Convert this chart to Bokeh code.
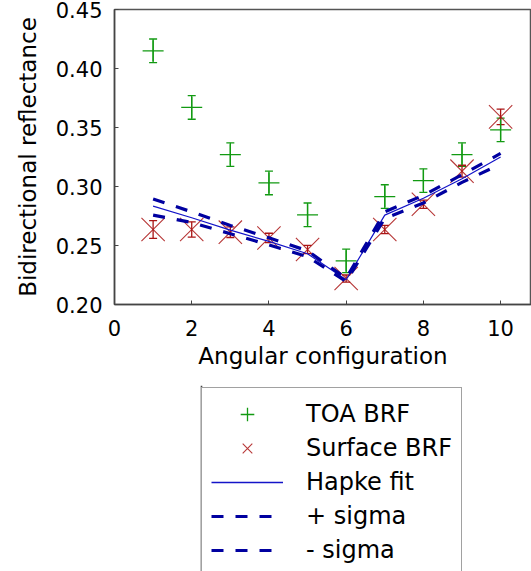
from bokeh.plotting import figure
from bokeh.layouts import column
from bokeh.models import (ColumnDataSource, Whisker, TeeHead, Legend, LegendItem,
                          Range1d, FixedTicker, PrintfTickFormatter, Span)
from bokeh.embed import file_html
from bokeh.resources import INLINE

# ---- data ----
angles = [1, 2, 3, 4, 5, 6, 7, 8, 9, 10]
toa_brf = [0.415, 0.367, 0.327, 0.303, 0.276, 0.237, 0.2915, 0.305, 0.327, 0.348]
toa_err = [0.010, 0.010, 0.010, 0.010, 0.010, 0.010, 0.010, 0.010, 0.010, 0.010]
surf_brf = [0.2636, 0.2636, 0.2613, 0.2564, 0.2466, 0.222, 0.2636, 0.285, 0.313, 0.359]
surf_err = [0.0075, 0.0065, 0.0045, 0.0040, 0.0035, 0.0030, 0.0035, 0.0035, 0.0050, 0.0066]
hapke_fit = [0.2834, 0.2735, 0.2630, 0.2535, 0.2430, 0.2210, 0.2757, 0.2900, 0.3065, 0.3250]
plus_sigma = [0.2894, 0.2785, 0.2670, 0.2565, 0.2455, 0.2222, 0.2785, 0.2925, 0.3100, 0.3280]
minus_sigma = [0.2757, 0.2695, 0.2600, 0.2505, 0.2405, 0.2195, 0.2730, 0.2860, 0.3035, 0.3190]
x_ticks = [0, 2, 4, 6, 8, 10]
y_ticks = [0.20, 0.25, 0.30, 0.35, 0.40, 0.45]
legend_labels = ["TOA BRF", "Surface BRF", "Hapke fit", "+ sigma", "- sigma"]

GREEN = "#129a12"
RED = "#aa1414"
BLUE = "#1414c8"
DBLUE = "#0000a0"
FONT = "DejaVu Sans"

src = ColumnDataSource(dict(
    x=angles,
    toa=toa_brf,
    toa_lo=[v - e for v, e in zip(toa_brf, toa_err)],
    toa_hi=[v + e for v, e in zip(toa_brf, toa_err)],
    surf=surf_brf,
    surf_lo=[v - e for v, e in zip(surf_brf, surf_err)],
    surf_hi=[v + e for v, e in zip(surf_brf, surf_err)],
    fit=hapke_fit, ps=plus_sigma, ms=minus_sigma,
))

# ---------------- main plot ----------------
p = figure(width=531, height=385, output_backend="svg", toolbar_location=None,
           x_range=Range1d(0, 10.8), y_range=Range1d(0.20, 0.45),
           min_border_left=114, min_border_top=9, min_border_right=0,
           min_border_bottom=81)
p.grid.visible = False
p.outline_line_color = "#555555"
p.outline_line_width = 1.5
p.background_fill_color = "white"
p.border_fill_color = "white"

for ax in (p.xaxis[0], p.yaxis[0]):
    ax.major_tick_in = 4
    ax.major_tick_out = 0
    ax.minor_tick_line_color = None
    ax.axis_line_color = "#444444"
    ax.axis_line_width = 1.5
    ax.major_tick_line_color = "#444444"
    ax.major_label_text_font = FONT
    ax.major_label_text_font_size = "21px"
    ax.major_label_text_color = "black"
    ax.axis_label_text_font = FONT
    ax.axis_label_text_font_size = "23px"
    ax.axis_label_text_font_style = "normal"
    ax.axis_label_text_color = "black"

p.xaxis.ticker = FixedTicker(ticks=x_ticks)
p.yaxis.ticker = FixedTicker(ticks=y_ticks)
p.yaxis.formatter = PrintfTickFormatter(format="%.2f")
p.xaxis.axis_label = "Angular configuration"
p.yaxis.axis_label = "Bidirectional reflectance"
p.xaxis.major_label_standoff = 15
p.yaxis.major_label_standoff = 12
p.xaxis.axis_label_standoff = 4
p.yaxis.axis_label_standoff = 12

# error bars
p.add_layout(Whisker(base="x", lower="toa_lo", upper="toa_hi", source=src,
                     line_color=GREEN, line_width=1.3,
                     lower_head=TeeHead(size=8, line_color=GREEN, line_width=1.3),
                     upper_head=TeeHead(size=8, line_color=GREEN, line_width=1.3)))
p.add_layout(Whisker(base="x", lower="surf_lo", upper="surf_hi", source=src,
                     line_color=RED, line_width=1.3,
                     lower_head=TeeHead(size=8, line_color=RED, line_width=1.3),
                     upper_head=TeeHead(size=8, line_color=RED, line_width=1.3)))

p.scatter("x", "toa", source=src, marker="cross", size=21,
          line_color=GREEN, line_width=1.3)
p.scatter("x", "surf", source=src, marker="x", size=33,
          line_color=RED, line_width=1.1, line_alpha=0.85)
p.line("x", "fit", source=src, line_color=BLUE, line_width=1.2)
p.line("x", "ps", source=src, line_color=DBLUE, line_width=3.2, line_dash="12 12")
p.line("x", "ms", source=src, line_color=DBLUE, line_width=3.2, line_dash="12 12")

# ---------------- legend panel (below the plot) ----------------
# the same series are bound here again so that the legend can show their glyphs;
# this panel's ranges lie outside the data, so only the legend is visible.
# x range of this panel is expressed in page pixels (frame spans 114..531).
q = figure(width=531, height=186, output_backend="svg", toolbar_location=None,
           x_range=Range1d(114, 531), y_range=Range1d(-3, -2),
           x_axis_type=None, y_axis_type=None,
           min_border_left=114, min_border_top=0, min_border_right=0,
           min_border_bottom=0)
q.grid.visible = False
q.outline_line_color = None
q.border_fill_color = "white"
q.background_fill_color = "white"

g_toa = q.scatter("x", "toa", source=src, marker="cross", size=21,
                  line_color=GREEN, line_width=1.3)
g_surf = q.scatter("x", "surf", source=src, marker="x", size=33,
                   line_color=RED, line_width=1.1, line_alpha=0.85)
g_fit = q.line("x", "fit", source=src, line_color=BLUE, line_width=1.3)
g_ps = q.line("x", "ps", source=src, line_color=DBLUE, line_width=3.2,
              line_dash="12 12")
g_ms = q.line("x", "ms", source=src, line_color=DBLUE, line_width=3.2,
              line_dash="12 12")

legend = Legend(items=[
    LegendItem(label=legend_labels[0], renderers=[g_toa]),
    LegendItem(label=legend_labels[1], renderers=[g_surf]),
    LegendItem(label=legend_labels[2], renderers=[g_fit]),
    LegendItem(label=legend_labels[3], renderers=[g_ps]),
    LegendItem(label=legend_labels[4], renderers=[g_ms]),
], location=(87, -6), orientation="vertical",
    glyph_width=72, glyph_height=34, spacing=0, padding=9,
    label_standoff=23, label_width=146,
    label_text_font=FONT, label_text_font_size="24px", label_text_color="black",
    border_line_color="#444444", border_line_width=1.6,
    background_fill_color="white", background_fill_alpha=1.0,
    margin=0)
q.add_layout(legend)
# left edge of the legend box
q.add_layout(Span(location=201, dimension="height", line_color="#444444",
                  line_width=1.6))

layout = column(p, q, spacing=0)
open("out.html", "w").write(file_html(layout, INLINE))
